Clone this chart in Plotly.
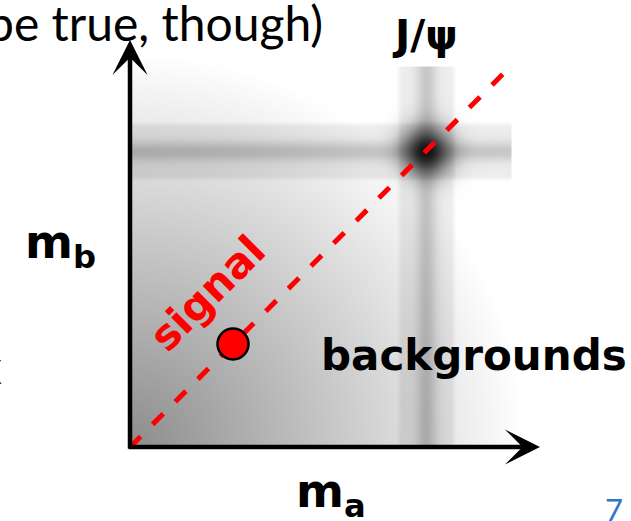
import numpy as np
import plotly.graph_objects as go

# --- diagram parameters (axis units: m_a horizontal, m_b vertical) ---
AXIS_TIPS = [4.10, 4.07]            # arrow tips on m_a and m_b
SIGNAL_LINE = [0.0, 3.83]           # diagonal m_a = m_b
SIGNAL_POINT = [1.03, 1.03]         # signal hypothesis on the diagonal
JPSI_MASS = [2.96, 2.96]            # J/psi resonance position (m_a, m_b)
BAND_HALF_WIDTH = 0.30
BAND_EXTENT = [3.82, 3.82]          # how far each J/psi band runs
BG_ORIGIN_GRAY = 0.55               # continuum shading at the origin
BG_FADE_RADIUS = 3.95               # where the continuum fades to white

# --- shading grid ---
xs = np.arange(0.0, 4.12, 0.02)
ys = np.arange(0.0, 4.02, 0.02)
X, Y = np.meshgrid(xs, ys)

r = np.hypot(X, Y)
shade = np.clip(BG_ORIGIN_GRAY + (1 - BG_ORIGIN_GRAY) * r / BG_FADE_RADIUS, 0, 1)


def band(dist, along, extent):
    inside = (np.abs(dist) <= BAND_HALF_WIDTH) & (along <= extent)
    edge = np.clip((BAND_HALF_WIDTH - np.abs(dist)) / 0.05, 0, 1)
    return inside * edge * (0.07 + 0.15 * np.exp(-(dist / 0.10) ** 2))


shade = shade - band(Y - JPSI_MASS[1], X, BAND_EXTENT[0])
shade = shade - band(X - JPSI_MASS[0], Y, BAND_EXTENT[1])
rb = np.hypot(X - JPSI_MASS[0], Y - JPSI_MASS[1])
shade = shade * (1 - 0.88 * np.exp(-(rb / 0.24) ** 2))
shade = np.clip(shade, 0, 1)

fig = go.Figure()

fig.add_trace(go.Heatmap(
    x=xs, y=ys, z=shade,
    colorscale=[[0, "#000000"], [1, "#ffffff"]],
    zmin=0, zmax=1, zsmooth="best",
    showscale=False, hoverinfo="skip",
))

# signal diagonal
fig.add_trace(go.Scatter(
    x=SIGNAL_LINE, y=SIGNAL_LINE, mode="lines",
    line=dict(color="#ff0000", width=5, dash="15px,17px"),
    hoverinfo="skip", showlegend=False,
))

# signal point
fig.add_trace(go.Scatter(
    x=[SIGNAL_POINT[0]], y=[SIGNAL_POINT[1]], mode="markers",
    marker=dict(size=31, color="#ff0000", line=dict(color="#000000", width=2.5)),
    hoverinfo="skip", showlegend=False,
))

# axis arrows
fig.add_annotation(x=AXIS_TIPS[0], y=0, ax=-0.03, ay=0, xref="x", yref="y",
                   axref="x", ayref="y", text="", showarrow=True,
                   arrowhead=3, arrowwidth=4.5, arrowsize=1.3, arrowcolor="#000000")
fig.add_annotation(x=0, y=AXIS_TIPS[1], ax=0, ay=-0.03, xref="x", yref="y",
                   axref="x", ayref="y", text="", showarrow=True,
                   arrowhead=3, arrowwidth=4.5, arrowsize=1.3, arrowcolor="#000000")

bold = dict(family="DejaVu Sans", weight="bold", color="#000000")

fig.add_annotation(x=0.77, y=1.54, text="signal", textangle=-45, showarrow=False,
                   xanchor="center", yanchor="middle",
                   font=dict(family="DejaVu Sans", weight="bold", size=42, color="#ff0000"))
fig.add_annotation(x=1.89, y=0.92, xanchor="left", yanchor="middle", text="backgrounds",
                   showarrow=False, font=dict(size=42, **bold))
fig.add_annotation(x=-1.07, y=2.02, xanchor="left", yanchor="middle", text="m<sub>b</sub>",
                   showarrow=False, font=dict(size=46, **bold))
fig.add_annotation(x=1.64, y=-0.47, xanchor="left", yanchor="middle", text="m<sub>a</sub>",
                   showarrow=False, font=dict(size=46, **bold))
fig.add_annotation(x=2.95, y=4.12, xanchor="center", yanchor="middle", text="J/ψ",
                   showarrow=False, font=dict(size=41, **bold))

# slide text around the diagram
fig.add_annotation(x=325 / 631, y=1 + 8 / 521, xref="paper", yref="paper", xanchor="right",
                   yanchor="top", text="be true, though)", showarrow=False,
                   font=dict(family="Lato", size=48, color="#000000"))
fig.add_annotation(x=4 / 631, y=1 - 366 / 521, xref="paper", yref="paper", xanchor="right",
                   yanchor="middle", text="x", showarrow=False,
                   font=dict(family="Lato", size=46, color="#1a1a1a"))
fig.add_annotation(x=614 / 631, y=1 - 509 / 521, xref="paper", yref="paper",
                   xanchor="center", yanchor="middle", text="7", showarrow=False,
                   font=dict(family="Lato", size=31, color="#2e74c9"))

fig.update_xaxes(range=[-1.30, 5.01], visible=False, fixedrange=True)
fig.update_yaxes(range=[-0.74, 4.47], visible=False, fixedrange=True)
fig.update_layout(
    width=631, height=521,
    margin=dict(l=0, r=0, t=0, b=0),
    paper_bgcolor="#ffffff", plot_bgcolor="#ffffff",
    showlegend=False,
)

fig.write_html("out.html")
